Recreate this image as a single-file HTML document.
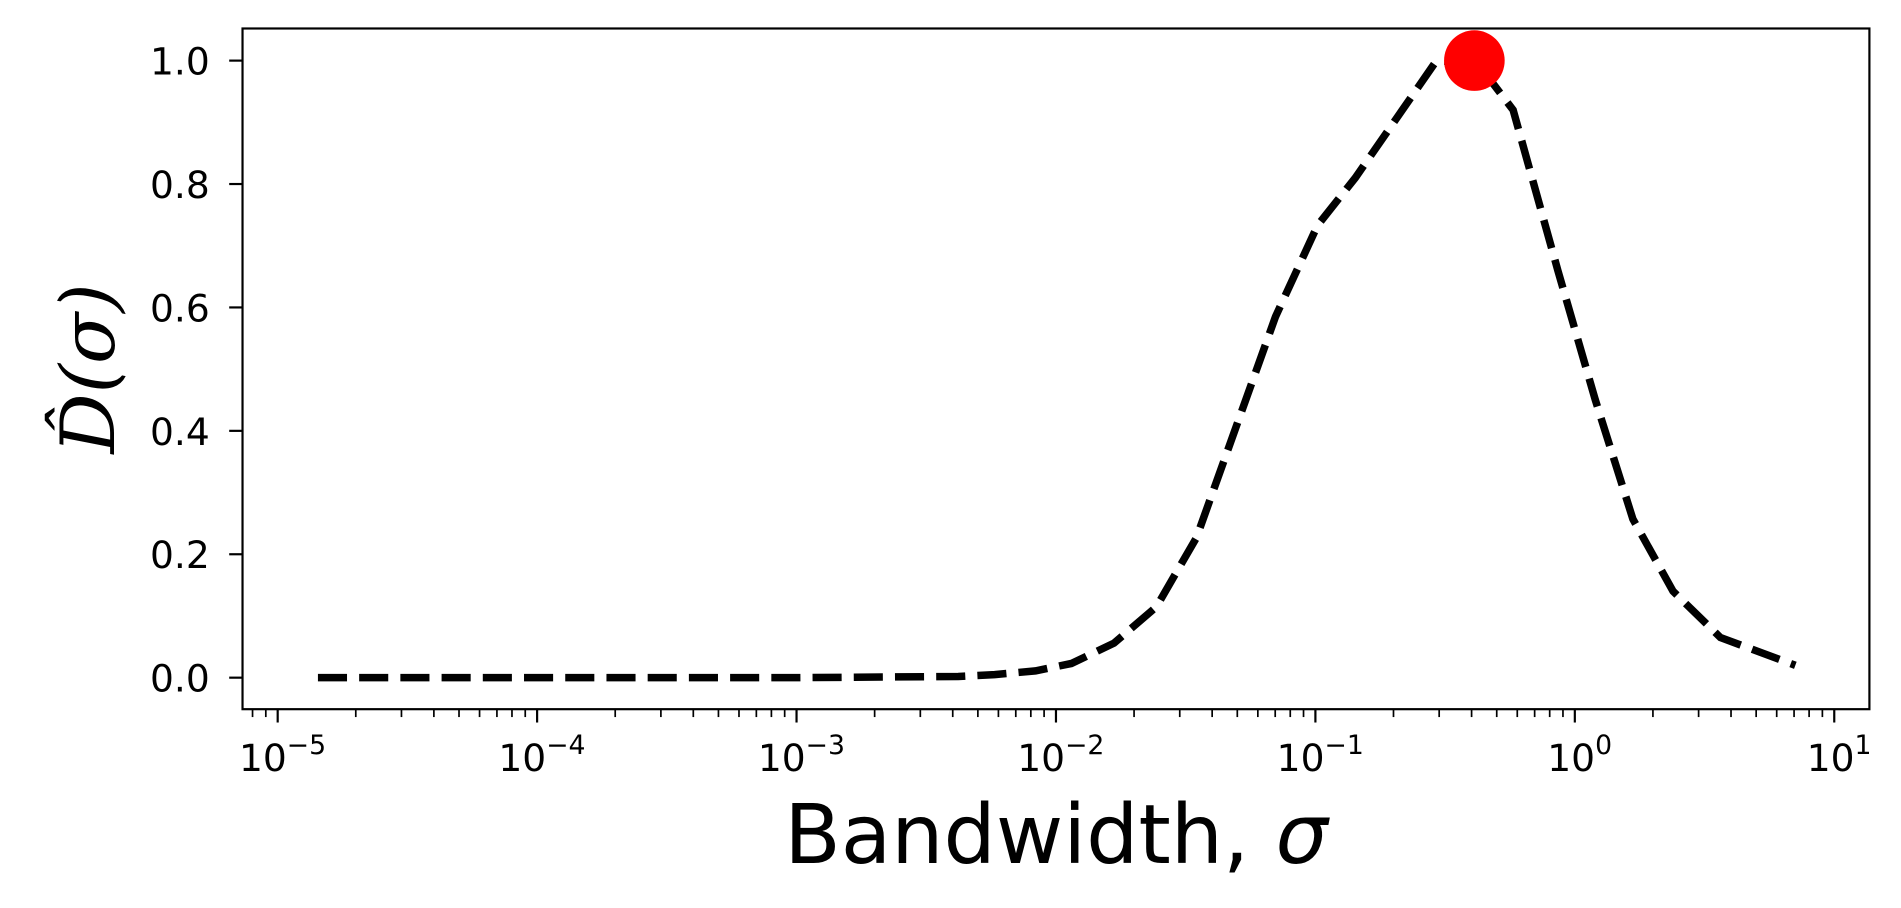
<!DOCTYPE html>
<html><head><meta charset="utf-8"><style>html,body{margin:0;padding:0;background:#fff}svg{display:block}</style></head>
<body>
<svg id="chart" width="1901" height="908" viewBox="0 0 1568 749" xmlns="http://www.w3.org/2000/svg" font-family="'DejaVu Sans','Liberation Sans',sans-serif">
<rect width="1568" height="749" fill="#fff"/>
<g id="g"></g>
<text x="871" y="712" font-size="68" text-anchor="middle">Bandwidth, <tspan font-style="italic">σ</tspan></text>
<text transform="translate(94,304) rotate(-90)" font-size="62" text-anchor="middle" font-family="'DejaVu Serif','Liberation Serif',serif" font-style="italic">D̂(σ)</text>
</svg>
<script>
const sigmas = [1.43e-5, 3.0e-5, 1.0e-4, 3.0e-4, 1.0e-3, 0.0042, 0.0058, 0.00834, 0.01146, 0.01675, 0.0244, 0.0348, 0.0702, 0.102, 0.1425, 0.293, 0.423, 0.578, 0.86, 1.2, 1.675, 2.39, 3.64, 7.08];
const dvals = [0, 0, 0, 0, 0, 0.002, 0.005, 0.011, 0.023, 0.056, 0.115, 0.227, 0.585, 0.733, 0.81, 1.0, 0.995, 0.92, 0.66, 0.45, 0.257, 0.14, 0.065, 0.02];
const peakSigma = [0.41];
const peakValue = [1.0];
const yTicks = [0.0, 0.2, 0.4, 0.6, 0.8, 1.0];
const xExponents = [-5, -4, -3, -2, -1, 0, 1];

const L=200,R=1542,T=23.5,B=585;
const xs = v => 229 + (Math.log10(v)+5)*214;
const ys = v => 559 - v*509;
const NS="http://www.w3.org/2000/svg";
const g=document.getElementById('g');
function mk(tag,attrs){const e=document.createElementNS(NS,tag);for(const k in attrs)e.setAttribute(k,attrs[k]);g.appendChild(e);return e;}

yTicks.forEach(v=>{
  const t=mk('line',{x1:L-11,x2:L,y1:ys(v),y2:ys(v),stroke:'#000','stroke-width':1.8});
  
  
  const tx=mk('text',{x:173,y:ys(v)+11.5,'font-size':31,'text-anchor':'end'});
  tx.textContent=v.toFixed(1);
  
  
});
for(let e=-6;e<=1;e++){
  for(let m=1;m<10;m++){
    const v=m*Math.pow(10,e);const x=xs(v);
    if(x<L||x>R)continue;
    const major=m===1;
    const t=mk('line',{x1:x,x2:x,y1:B,y2:B+(major?11:6.5),stroke:'#000','stroke-width':major?1.8:1.4});
    
    
  }
}
xExponents.forEach(e=>{
  const x=xs(Math.pow(10,e));
  const tx=mk('text',{x:x+4,y:636,'font-size':31,'text-anchor':'middle'});
  tx.innerHTML='10<tspan dy="-14" font-size="22">'+(e<0?'−'+(-e):e)+'</tspan>';
  
  
});
const d=sigmas.map((s,i)=>(i?'L':'M')+xs(s).toFixed(1)+','+ys(dvals[i]).toFixed(1)).join(' ');
const p=mk('path',{d:d,fill:'none',stroke:'#000','stroke-width':6.2,'stroke-dasharray':'24 10'});


const c=mk('circle',{cx:xs(peakSigma[0]),cy:ys(peakValue[0]),r:25,fill:'#ff0000'});


const f=mk('rect',{x:L,y:T,width:R-L,height:B-T,fill:'none',stroke:'#000','stroke-width':1.8});


</script>
</body></html>
